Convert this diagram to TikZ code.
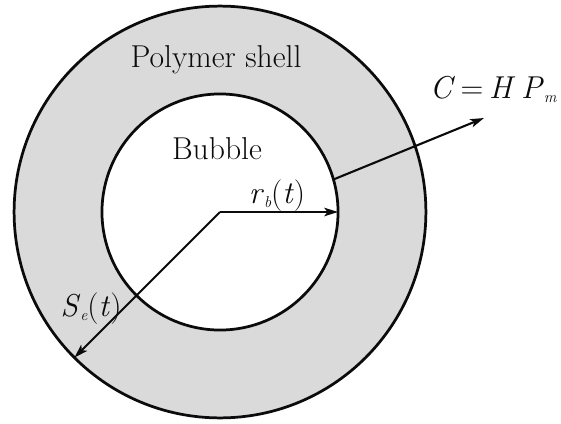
\documentclass[tikz,border=0pt]{standalone}
\usetikzlibrary{arrows.meta, positioning}
\definecolor{shellgray}{HTML}{DADADA}
\definecolor{inkline}{HTML}{0B0B0B}
\newcommand{\var}[1]{\textit{#1}}
\newcommand{\low}[1]{\raisebox{-0.3ex}{\fontsize{15}{15}\selectfont\textit{#1}}}
\newcommand{\gap}{\hspace{0.18em}}

\begin{document}
\begin{tikzpicture}[
  x=0.033333cm, y=-0.033333cm,
  shellring/.style={circle, draw=inkline, fill=shellgray, line width=2.6pt, minimum size=13.73cm, inner sep=0pt, outer sep=0pt},
  bubblering/.style={circle, draw=inkline, fill=white, line width=2.6pt, minimum size=7.87cm, inner sep=0pt, outer sep=0pt},
  lbl/.style={anchor=base, inner sep=0pt, font=\fontsize{30}{34}\selectfont, text=inkline},
  vec/.style={-{Stealth[length=13pt, width=8pt, inset=3pt]}, line width=2pt, inkline}
]
\useasboundingbox (0,0) rectangle (561,423);
\coordinate (ctr) at (220,212);
\node[shellring] (shell) at (ctr) {};
\node[bubblering] (bubble) at (ctr) {};

\node[lbl] (shelltxt) at (216,67) {Polymer shell};
\node[lbl] (bubbletxt) at (217,159) {Bubble};
\node[lbl] (rblbl) at (277,203) {\var{r}\low{b}(\var{t})};
\node[lbl] (selbl) at (91,316) {\var{S}\low{e}(\var{t})};
\node[lbl, anchor=base east] (flux) at (557,98) {\var{C}\gap=\gap\var{H}\gap\var{P}\low{m}};

\coordinate (fluxend) at (484,118);
\draw[vec] (ctr) -- (bubble.east);
\draw[vec] (ctr) -- (shell.225);
\draw[vec] (bubble.16) -- (fluxend);
\end{tikzpicture}
\end{document}
